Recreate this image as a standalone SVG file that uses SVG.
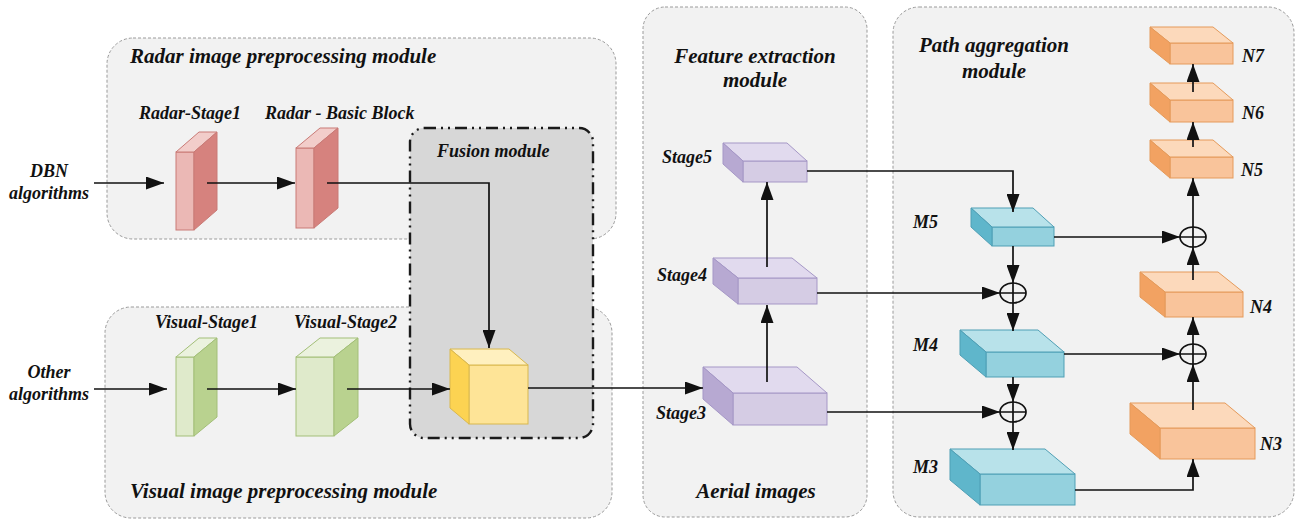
<svg xmlns="http://www.w3.org/2000/svg" width="1297" height="519" viewBox="0 0 1297 519">
<defs>
<style>
.bg{fill:#ffffff}
.mod{fill:#f2f2f2;stroke:#9a9a9a;stroke-width:1;stroke-dasharray:3 2}
.fus{fill:#d7d7d7;stroke:#1a1a1a;stroke-width:2.4;stroke-dasharray:12 5 2 5 2 5}
.t{font-family:"Liberation Serif","Times New Roman",serif;font-weight:bold;font-style:italic;fill:#111}
.big{font-size:21px}
.lbl{font-size:18px}
.c{stroke:#111;stroke-width:1.7;fill:none}
.a{marker-end:url(#ah)}
.rf{fill:#ebb8b5;stroke:#c97a76}.rs{fill:#d6827e;stroke:#c97a76}.rt{fill:#f2cdca;stroke:#c97a76}
.gf{fill:#dfeacb;stroke:#a3bf78}.gs{fill:#b9d28f;stroke:#a3bf78}.gt{fill:#ebf2de;stroke:#a3bf78}
.yf{fill:#fee497;stroke:#d9b84e}.ys{fill:#fcd352;stroke:#d9b84e}.yt{fill:#fff0bf;stroke:#d9b84e}
.pf{fill:#d5cce4;stroke:#a597c6}.ps{fill:#b7a9d2;stroke:#a597c6}.pt{fill:#e1daee;stroke:#a597c6}
.bf{fill:#94d1de;stroke:#4f9fb5}.bs{fill:#5fb6cb;stroke:#4f9fb5}.bt{fill:#b8e2ea;stroke:#4f9fb5}
.of{fill:#f9c49b;stroke:#e59a5a}.os{fill:#f2a262;stroke:#e59a5a}.ot{fill:#fcd9bb;stroke:#e59a5a}
.sum{fill:none;stroke:#111;stroke-width:1.7}
</style>
<marker id="ah" markerUnits="userSpaceOnUse" markerWidth="18" markerHeight="13" refX="18" refY="6.5" orient="auto">
<path d="M0,0 L18,6.5 L0,13 z" fill="#111"/>
</marker>
</defs>
<rect class="bg" x="0" y="0" width="1297" height="519"/>

<g id="modules">
<rect id="radar-module" class="mod" x="107" y="38" width="509" height="201" rx="26"/>
<rect id="visual-module" class="mod" x="105" y="307" width="507" height="211" rx="26"/>
<rect id="fusion-module" class="fus" x="410" y="128" width="183" height="310" rx="14"/>
<rect id="feature-module" class="mod" x="643" y="7" width="224" height="510" rx="22"/>
<rect id="path-module" class="mod" x="893" y="7" width="401" height="510" rx="26"/>
</g>

<g id="module-titles">
<text class="t big" x="130" y="63">Radar image preprocessing module</text>
<text class="t big" x="130" y="498">Visual image preprocessing module</text>
<text class="t lbl" x="437" y="157">Fusion module</text>
<text class="t big" x="755" y="63" text-anchor="middle">Feature extraction</text>
<text class="t big" x="755" y="87" text-anchor="middle">module</text>
<text class="t big" x="756" y="498" text-anchor="middle">Aerial images</text>
<text class="t big" x="919" y="52">Path aggregation</text>
<text class="t big" x="994" y="78" text-anchor="middle">module</text>
<text class="t lbl" x="49" y="177" text-anchor="middle">DBN</text>
<text class="t lbl" x="49" y="199" text-anchor="middle">algorithms</text>
<text class="t lbl" x="49" y="378" text-anchor="middle">Other</text>
<text class="t lbl" x="49" y="400" text-anchor="middle">algorithms</text>
</g>

<g id="radar-stage1">
<rect class="rf" x="176" y="152" width="18" height="78"/>
<polygon class="rt" points="176,152 194,152 217,132 199,132"/>
<polygon class="rs" points="194,152 217,132 217,210 194,230"/>
<text class="t lbl" x="139" y="119">Radar-Stage1</text>
</g>
<g id="radar-basic-block">
<rect class="rf" x="296" y="148" width="18" height="80"/>
<polygon class="rt" points="296,148 314,148 338,128 320,128"/>
<polygon class="rs" points="314,148 338,128 338,208 314,228"/>
<text class="t lbl" x="265" y="119">Radar - Basic Block</text>
</g>
<g id="visual-stage1">
<rect class="gf" x="176" y="357" width="18" height="79"/>
<polygon class="gt" points="176,357 194,357 217,338 199,338"/>
<polygon class="gs" points="194,357 217,338 217,417 194,436"/>
<text class="t lbl" x="155" y="328">Visual-Stage1</text>
</g>
<g id="visual-stage2">
<rect class="gf" x="296" y="357" width="38" height="79"/>
<polygon class="gt" points="296,357 334,357 358,338 320,338"/>
<polygon class="gs" points="334,357 358,338 358,417 334,436"/>
<text class="t lbl" x="294" y="328">Visual-Stage2</text>
</g>
<g id="fusion-cube">
<rect class="yf" x="469" y="365" width="59" height="59"/>
<polygon class="yt" points="469,365 528,365 509,349 450,349"/>
<polygon class="ys" points="469,365 450,349 450,408 469,424"/>
</g>

<g id="stage5">
<rect class="pf" x="743" y="161" width="64" height="21"/>
<polygon class="pt" points="743,161 807,161 787,143 723,143"/>
<polygon class="ps" points="743,161 723,143 723,164 743,182"/>
<text class="t lbl" x="662" y="163">Stage5</text>
</g>
<g id="stage4">
<rect class="pf" x="738" y="278" width="79" height="26"/>
<polygon class="pt" points="738,278 817,278 792,258 713,258"/>
<polygon class="ps" points="738,278 713,258 713,284 738,304"/>
<text class="t lbl" x="657" y="281">Stage4</text>
</g>
<g id="stage3">
<rect class="pf" x="733" y="393" width="94" height="32"/>
<polygon class="pt" points="733,393 827,393 797,367 703,367"/>
<polygon class="ps" points="733,393 703,367 703,399 733,425"/>
<text class="t lbl" x="656" y="419">Stage3</text>
</g>

<g id="m5">
<rect class="bf" x="992" y="227" width="62" height="19"/>
<polygon class="bt" points="992,227 1054,227 1033,208 971,208"/>
<polygon class="bs" points="992,227 971,208 971,227 992,246"/>
<text class="t lbl" x="913" y="228">M5</text>
</g>
<g id="m4">
<rect class="bf" x="986" y="352" width="78" height="25"/>
<polygon class="bt" points="986,352 1064,352 1038,330 960,330"/>
<polygon class="bs" points="986,352 960,330 960,355 986,377"/>
<text class="t lbl" x="913" y="351">M4</text>
</g>
<g id="m3">
<rect class="bf" x="980" y="474" width="95" height="31"/>
<polygon class="bt" points="980,474 1075,474 1045,449 950,449"/>
<polygon class="bs" points="980,474 950,449 950,480 980,505"/>
<text class="t lbl" x="913" y="473">M3</text>
</g>

<g id="n7">
<rect class="of" x="1170" y="43" width="63" height="21"/>
<polygon class="ot" points="1170,43 1233,43 1213,27 1150,27"/>
<polygon class="os" points="1170,43 1150,27 1150,48 1170,64"/>
<text class="t lbl" x="1242" y="62">N7</text>
</g>
<g id="n6">
<rect class="of" x="1170" y="100" width="63" height="22"/>
<polygon class="ot" points="1170,100 1233,100 1213,83 1150,83"/>
<polygon class="os" points="1170,100 1150,83 1150,105 1170,122"/>
<text class="t lbl" x="1242" y="119">N6</text>
</g>
<g id="n5">
<rect class="of" x="1170" y="157" width="63" height="21"/>
<polygon class="ot" points="1170,157 1233,157 1213,140 1150,140"/>
<polygon class="os" points="1170,157 1150,140 1150,161 1170,178"/>
<text class="t lbl" x="1241" y="176">N5</text>
</g>
<g id="n4">
<rect class="of" x="1165" y="292" width="78" height="25"/>
<polygon class="ot" points="1165,292 1243,292 1218,272 1140,272"/>
<polygon class="os" points="1165,292 1140,272 1140,297 1165,317"/>
<text class="t lbl" x="1250" y="313">N4</text>
</g>
<g id="n3">
<rect class="of" x="1160" y="428" width="95" height="31"/>
<polygon class="ot" points="1160,428 1255,428 1225,403 1130,403"/>
<polygon class="os" points="1160,428 1130,403 1130,434 1160,459"/>
<text class="t lbl" x="1260" y="450">N3</text>
</g>

<g id="sum-top"><ellipse class="sum" cx="1193" cy="237" rx="13" ry="10"/><path class="sum" d="M1180,237 H1206 M1193,227 V247"/></g>
<g id="sum-m4"><ellipse class="sum" cx="1013" cy="293" rx="13" ry="10"/><path class="sum" d="M1000,293 H1026 M1013,283 V303"/></g>
<g id="sum-n4"><ellipse class="sum" cx="1193" cy="354" rx="13" ry="10"/><path class="sum" d="M1180,354 H1206 M1193,344 V364"/></g>
<g id="sum-m3"><ellipse class="sum" cx="1013" cy="412" rx="13" ry="10"/><path class="sum" d="M1000,412 H1026 M1013,402 V422"/></g>

<g id="connectors">
<path class="c a" d="M94,183 H164"/>
<path class="c a" d="M207,183 H295"/>
<path class="c a" d="M327,183 H489 V348"/>
<path class="c a" d="M94,389 H167"/>
<path class="c a" d="M207,389 H296"/>
<path class="c a" d="M347,389 H450"/>
<path class="c a" d="M528,388 H703"/>
<path class="c a" d="M767,382 V305"/>
<path class="c a" d="M767,267 V182"/>
<path class="c a" d="M807,171 H1013 V212"/>
<path class="c a" d="M817,293 H1000"/>
<path class="c a" d="M827,412 H1000"/>
<path class="c a" d="M1013,246 V283"/>
<path class="c a" d="M1013,303 V331"/>
<path class="c a" d="M1013,377 V402"/>
<path class="c a" d="M1013,422 V450"/>
<path class="c a" d="M1075,490 H1193 V459"/>
<path class="c a" d="M1193,410 V364"/>
<path class="c a" d="M1193,344 V317"/>
<path class="c a" d="M1064,354 H1180"/>
<path class="c a" d="M1193,280 V247"/>
<path class="c a" d="M1054,237 H1180"/>
<path class="c a" d="M1193,227 V178"/>
<path class="c a" d="M1193,147 V122"/>
<path class="c a" d="M1193,92 V64"/>
</g>
</svg>
